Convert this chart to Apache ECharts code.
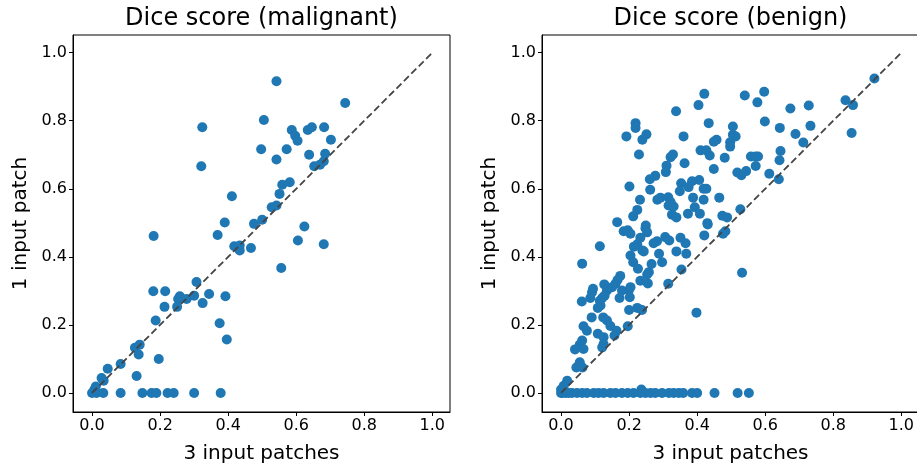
<!DOCTYPE html>
<html>
<head>
<meta charset="utf-8">
<script src="https://cdn.jsdelivr.net/npm/echarts@6/dist/echarts.min.js"></script>
<style>
html,body{margin:0;padding:0;background:#fff;}
#c{width:917px;height:466px;}
</style>
</head>
<body>
<div id="c"></div>
<script>
// ---- data ----
const tickValues = [0, 0.2, 0.4, 0.6, 0.8, 1.0];
const diagonal = [[0, 0], [1, 1]];
const titles = ['Dice score (malignant)', 'Dice score (benign)'];
const xLabel = '3 input patches';
const yLabel = '1 input patch';

const malignantPoints = [
  [0.542,0.916],[0.744,0.852],[0.324,0.781],[0.505,0.802],[0.587,0.773],[0.597,0.756],[0.604,0.741],
  [0.634,0.773],[0.646,0.781],[0.682,0.781],[0.702,0.744],[0.497,0.716],[0.572,0.716],[0.542,0.686],
  [0.638,0.700],[0.685,0.703],[0.653,0.666],[0.670,0.671],[0.681,0.681],[0.321,0.666],[0.411,0.578],
  [0.581,0.619],[0.559,0.612],[0.551,0.585],[0.528,0.546],[0.542,0.551],[0.390,0.501],[0.476,0.497],
  [0.500,0.509],[0.624,0.489],[0.181,0.461],[0.369,0.464],[0.418,0.431],[0.434,0.433],[0.434,0.419],
  [0.467,0.426],[0.605,0.448],[0.681,0.437],[0.556,0.367],[0.307,0.326],[0.180,0.299],[0.215,0.299],
  [0.258,0.284],[0.253,0.276],[0.278,0.276],[0.300,0.286],[0.344,0.291],[0.392,0.284],[0.213,0.253],
  [0.250,0.253],[0.325,0.264],[0.187,0.213],[0.375,0.205],[0.396,0.157],[0.126,0.133],[0.140,0.142],
  [0.137,0.113],[0.196,0.100],[0.084,0.085],[0.046,0.071],[0.028,0.044],[0.034,0.036],[0.131,0.050],
  [0.011,0.019],[0.007,0.010],[0,0],
  [0.013,0],[0.033,0],[0.084,0],[0.148,0],[0.175,0],[0.189,0],[0.222,0],[0.240,0],[0.300,0],[0.378,0]
];

const benignPoints = [
  [0.421,0.879],[0.404,0.846],[0.338,0.828],[0.219,0.793],[0.219,0.779],[0.192,0.754],[0.251,0.760],
  [0.239,0.744],[0.434,0.793],[0.360,0.754],[0.457,0.744],[0.449,0.738],[0.229,0.701],[0.329,0.701],
  [0.322,0.693],[0.410,0.713],[0.427,0.713],[0.437,0.698],[0.481,0.691],[0.363,0.675],[0.310,0.668],
  [0.308,0.649],[0.449,0.658],[0.277,0.638],[0.261,0.628],[0.201,0.607],[0.262,0.597],[0.353,0.616],
  [0.385,0.622],[0.406,0.626],[0.375,0.605],[0.349,0.593],[0.419,0.600],[0.427,0.600],[0.232,0.568],
  [0.283,0.568],[0.292,0.574],[0.315,0.575],[0.322,0.561],[0.316,0.551],[0.331,0.548],[0.388,0.574],
  [0.419,0.568],[0.393,0.546],[0.465,0.574],[0.224,0.538],[0.212,0.519],[0.326,0.524],[0.339,0.516],
  [0.373,0.527],[0.408,0.527],[0.474,0.521],[0.165,0.502],[0.249,0.492],[0.430,0.499],
  [0.921,0.924],[0.836,0.860],[0.858,0.846],[0.854,0.764],[0.540,0.874],[0.597,0.885],[0.577,0.854],
  [0.674,0.836],[0.728,0.845],[0.599,0.798],[0.643,0.779],[0.733,0.785],[0.689,0.761],[0.712,0.736],
  [0.505,0.783],[0.505,0.759],[0.513,0.754],[0.497,0.737],[0.497,0.724],[0.645,0.711],[0.642,0.684],
  [0.558,0.695],[0.572,0.695],[0.579,0.695],[0.572,0.667],[0.518,0.648],[0.530,0.640],[0.544,0.652],
  [0.612,0.644],[0.640,0.628],[0.527,0.540],[0.488,0.516],
  [0.532,0.353],[0.483,0.475],
  [0.114,0.431],[0.062,0.380],[0.184,0.475],[0.196,0.478],[0.204,0.468],[0.248,0.484],[0.253,0.472],
  [0.233,0.456],[0.224,0.437],[0.214,0.430],[0.239,0.419],[0.243,0.416],[0.204,0.404],[0.212,0.384],
  [0.226,0.365],[0.272,0.440],[0.282,0.446],[0.306,0.458],[0.318,0.448],[0.351,0.456],[0.366,0.440],
  [0.339,0.416],[0.368,0.409],[0.288,0.409],[0.297,0.384],[0.266,0.379],[0.258,0.355],[0.253,0.348],
  [0.354,0.363],[0.233,0.330],[0.255,0.322],[0.315,0.321],[0.421,0.463],[0.431,0.495],[0.476,0.468],
  [0.398,0.236],
  [0.174,0.344],[0.166,0.332],[0.160,0.321],[0.150,0.311],[0.179,0.301],[0.199,0.301],[0.204,0.311],
  [0.127,0.319],[0.135,0.301],[0.094,0.306],[0.091,0.296],[0.114,0.271],[0.121,0.279],[0.128,0.286],
  [0.116,0.257],[0.108,0.250],[0.086,0.279],[0.061,0.269],[0.172,0.279],[0.202,0.281],[0.200,0.244],
  [0.224,0.250],[0.238,0.244],[0.090,0.222],[0.124,0.222],[0.135,0.213],[0.145,0.197],[0.163,0.183],
  [0.196,0.196],[0.066,0.196],[0.076,0.183],[0.108,0.174],[0.125,0.164],[0.157,0.169],[0.062,0.154],
  [0.055,0.142],[0.041,0.128],[0.066,0.129],[0.125,0.144],[0.121,0.134],[0.055,0.090],[0.045,0.075],
  [0.063,0.075],[0.018,0.036],[0.008,0.021],[0,0.010],[0.236,0.010],
  [0,0],[0.003,0],[0.013,0],[0.022,0],[0.032,0],[0.047,0],[0.062,0],[0.076,0],[0.096,0],[0.110,0],
  [0.125,0],[0.145,0],[0.160,0],[0.179,0],[0.196,0],[0.213,0],[0.233,0],[0.248,0],[0.263,0],[0.277,0],
  [0.297,0],[0.317,0],[0.331,0],[0.346,0],[0.359,0],[0.385,0],[0.400,0],[0.451,0],[0.519,0],[0.552,0]
];

// ---- chart ----
const FONT = 'DejaVu Sans';
const AX_MIN = -0.056, AX_MAX = 1.052;
const grids = [
  {left: 73, top: 35, width: 377, height: 377},
  {left: 542, top: 35, width: 377, height: 377}
];

function mkAxis(i, isX) {
  const a = {
    gridIndex: i,
    type: 'value',
    min: AX_MIN, max: AX_MAX,
    name: isX ? xLabel : yLabel,
    nameLocation: 'middle',
    nameGap: isX ? 32 : 42,
    nameTextStyle: {fontFamily: FONT, fontSize: 20, color: '#000'},
    axisLine: {show: true, onZero: false, lineStyle: {color: '#000', width: 1}},
    axisTick: {show: true, inside: false, length: 4, customValues: tickValues, lineStyle: {color: '#000', width: 1}},
    axisLabel: {show: true, customValues: tickValues, margin: 6, fontFamily: FONT, fontSize: 16, color: '#000',
                formatter: v => v.toFixed(1)},
    splitLine: {show: false}
  };
  if (!isX) a.nameRotate = 90;
  return a;
}

const option = {
  animation: false,
  backgroundColor: '#fff',
  title: [0, 1].map(i => ({
    text: titles[i],
    left: grids[i].left + grids[i].width / 2,
    textAlign: 'center',
    top: 7,
    padding: 0,
    textStyle: {fontFamily: FONT, fontSize: 24, fontWeight: 'normal', color: '#000'}
  })),
  grid: grids.map(g => Object.assign({show: true, borderColor: '#000', borderWidth: 1,
    backgroundColor: 'transparent', containLabel: false, outerBoundsMode: 'none'}, g)),
  xAxis: [mkAxis(0, true), mkAxis(1, true)],
  yAxis: [mkAxis(0, false), mkAxis(1, false)],
  series: [
    {type: 'scatter', xAxisIndex: 0, yAxisIndex: 0, data: malignantPoints, symbolSize: 10,
     itemStyle: {color: '#1f77b4', opacity: 1}, z: 2},
    {type: 'line', xAxisIndex: 0, yAxisIndex: 0, data: diagonal, symbol: 'none',
     lineStyle: {color: '#444', width: 1.8, type: [7, 3.5]}, z: 3},
    {type: 'scatter', xAxisIndex: 1, yAxisIndex: 1, data: benignPoints, symbolSize: 10,
     itemStyle: {color: '#1f77b4', opacity: 1}, z: 2},
    {type: 'line', xAxisIndex: 1, yAxisIndex: 1, data: diagonal, symbol: 'none',
     lineStyle: {color: '#444', width: 1.8, type: [7, 3.5]}, z: 3}
  ]
};

const chart = echarts.init(document.getElementById('c'), null, {renderer: 'canvas'});
chart.setOption(option);
</script>
</body>
</html>
